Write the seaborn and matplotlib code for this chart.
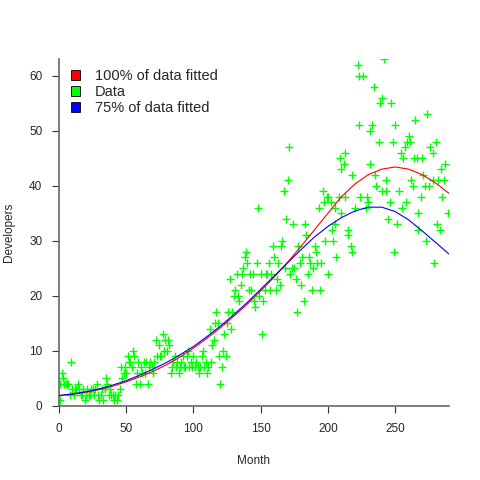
import numpy as np
import pandas as pd
import seaborn as sns
import matplotlib
matplotlib.use("Agg")
import matplotlib.pyplot as plt
from matplotlib.patches import Patch

# monthly developer counts
month = [
    1, 1, 2, 3, 4, 5, 6, 7, 8, 9, 10, 11, 12, 13, 14, 15, 16, 17, 18, 19, 20,
    21, 22, 23, 24, 25, 26, 27, 28, 29, 30, 31, 32, 33, 34, 35, 36, 37, 38, 39,
    40, 41, 42, 43, 44, 45,
    46, 47, 48, 49, 50, 51, 52, 53, 54, 55, 56, 57, 58, 59, 60, 61, 62, 63, 64,
    65, 66, 67, 68, 69, 70, 71, 72, 73, 74, 75, 76, 77, 78, 79, 80,
    81, 82, 83, 84, 85, 86, 87, 88, 89, 90, 91, 92, 93, 94, 95, 96, 97, 98, 99,
    100, 101, 102, 103, 104, 105, 106, 107, 108, 109, 110, 111, 112, 113, 114,
    115, 116, 117, 118, 119, 120, 121, 122, 123, 124, 125,
    126, 127, 128, 129, 130, 131, 132, 133, 134, 135, 136, 137, 138, 139, 140,
    141, 142, 143, 144, 145, 146, 147, 148, 149, 150, 151, 152, 153, 154, 155,
    156, 157, 158, 159, 160,
    161, 162, 163, 164, 165, 166, 167, 168, 169, 170, 171, 172, 173, 174, 175,
    176, 177, 178, 179, 180, 181, 182, 183, 184, 185, 186, 187, 188, 189, 190,
    191, 192, 193, 194, 195, 196, 197, 198, 199,
    200, 200, 202, 203, 204, 205, 205, 206, 208, 209, 210, 210, 212, 213, 213,
    215, 215, 217, 218, 218, 220, 222, 223, 223, 224, 226, 228, 229, 230, 231,
    231, 233, 234, 235, 236, 238, 239, 240, 240, 242, 243, 243, 245, 246, 247,
    248, 249, 250, 251, 253, 254, 255, 256, 257, 258, 259, 260, 261, 262, 263,
    264, 265, 266, 267, 267, 269, 270, 271, 272, 273, 274, 275, 276, 278, 278,
    279, 280, 281, 282, 283, 284, 285, 286, 287, 289,
]
developers = [
    1, 4, 6, 5, 4, 4, 4, 4, 2, 8, 3, 2, 3, 3, 4, 3, 2, 2, 3, 1, 2,
    3, 2, 2, 3, 3, 2, 3, 4, 2, 1, 2, 3, 1, 3, 5, 4, 2, 3, 2,
    2, 1, 2, 1, 2, 3,
    7, 5, 6, 7, 6, 9, 8, 8, 7, 10, 9, 4, 6, 8, 4, 7, 6, 8, 6,
    8, 4, 7, 8, 7, 6, 8, 12, 9, 11, 9, 9, 13, 10, 12, 10,
    12, 11, 6, 7, 8, 9, 7, 8, 6, 7, 8, 9, 7, 7, 9, 10, 7, 8, 7,
    9, 7, 8, 7, 6, 7, 9, 10, 7, 8, 6, 7, 14, 8, 11,
    12, 15, 17, 15, 9, 4, 7, 10, 13, 9, 15,
    17, 23, 14, 17, 20, 21, 24, 20, 19, 22, 24, 25, 27, 28, 26,
    21, 24, 21, 24, 19, 18, 26, 36, 20, 24, 13, 19, 21, 24, 24,
    26, 21, 24, 29, 27,
    21, 23, 26, 22, 29, 30, 39, 25, 34, 41, 47, 24, 25, 33, 25,
    23, 17, 29, 26, 22, 27, 19, 33, 31, 24, 27, 26, 21, 25, 29,
    28, 26, 36, 21, 26, 39, 37, 30, 38,
    38, 24, 37, 32, 30, 33, 36, 27, 38, 45, 43, 35, 44, 46, 38,
    32, 31, 29, 42, 28, 36, 62, 60, 51, 38, 60, 36, 38, 37, 50,
    44, 51, 58, 42, 40, 48, 55, 56, 39, 63, 39, 41, 34, 37, 55,
    48, 28, 51, 33, 39, 46, 36, 45, 47, 37, 48, 49, 48, 41, 40,
    45, 52, 45, 32, 35, 38, 45, 42, 40, 30, 53, 40, 47, 46, 41,
    26, 48, 33, 41, 32, 43, 38, 41, 44, 35,
]

# fitted curves, read every 10 months
fit_month = [0, 10, 20, 30, 40, 50, 60, 70, 80, 90, 100, 110, 120, 130, 140,
             150, 160, 170, 180, 190, 200, 210, 220, 230, 240, 250, 260, 270,
             280, 290]
fit_all = [1.9, 2.1, 2.5, 3.0, 3.6, 4.4, 5.3, 6.3, 7.5, 8.9, 10.5, 12.3, 14.2,
           16.3, 18.5, 20.9, 23.4, 26.1, 29.0, 32.0, 35.0, 38.0, 40.3, 42.0,
           43.0, 43.4, 43.0, 42.0, 40.5, 38.6]
fit_75 = [1.9, 2.2, 2.6, 3.1, 3.8, 4.6, 5.6, 6.7, 7.9, 9.3, 10.8, 12.6, 14.5,
          16.6, 18.8, 21.2, 23.6, 26.0, 28.4, 30.7, 32.6, 34.2, 35.4, 36.1,
          36.1, 35.3, 33.8, 31.8, 29.7, 27.6]

sns.set_style("ticks")
plt.rcParams["font.family"] = ["Liberation Sans", "DejaVu Sans"]

df = pd.DataFrame({"month": month, "developers": developers})
fits = pd.DataFrame({"month": fit_month, "all": fit_all, "part": fit_75})

fig = plt.figure(figsize=(4.8, 4.8), dpi=100)
ax = fig.add_axes([59 / 480, 74 / 480, 390 / 480, 347 / 480])

sns.scatterplot(data=df, x="month", y="developers", marker="+", color="#00ff00",
                s=28, linewidth=1.0, ax=ax, zorder=2)
sns.lineplot(data=fits, x="month", y="all", color="#ff0000", linewidth=0.8,
             ax=ax, zorder=3)
sns.lineplot(data=fits, x="month", y="part", color="#0000ff", linewidth=0.8,
             ax=ax, zorder=3)

ax.set_xlim(0, 290)
ax.set_ylim(0, 63)
ax.set_xticks([0, 50, 100, 150, 200, 250])
ax.set_yticks([0, 10, 20, 30, 40, 50, 60])
ax.set_xlabel("Month", fontsize=8.5, labelpad=15)
ax.set_ylabel("Developers", fontsize=8.5, labelpad=10)
ax.tick_params(labelsize=8.5, length=5, width=0.8, color="#333333", pad=7)
for s in ["top", "right"]:
    ax.spines[s].set_visible(False)
for s in ["left", "bottom"]:
    ax.spines[s].set_color("#666666")
    ax.spines[s].set_linewidth(1.2)

handles = [Patch(facecolor="#ff0000", edgecolor="black", linewidth=0.6),
           Patch(facecolor="#00ff00", edgecolor="black", linewidth=0.6),
           Patch(facecolor="#0000ff", edgecolor="black", linewidth=0.6)]
labels = ["100% of data fitted", "Data", "75% of data fitted"]
ax.legend(handles, labels, loc="upper left", bbox_to_anchor=(65 / 480, 417 / 480),
          bbox_transform=fig.transFigure, frameon=False, fontsize=10.5,
          handlelength=0.65, handleheight=0.65, handletextpad=1.0,
          labelspacing=0.15, borderaxespad=0)

fig.savefig("out.png", dpi=100)
